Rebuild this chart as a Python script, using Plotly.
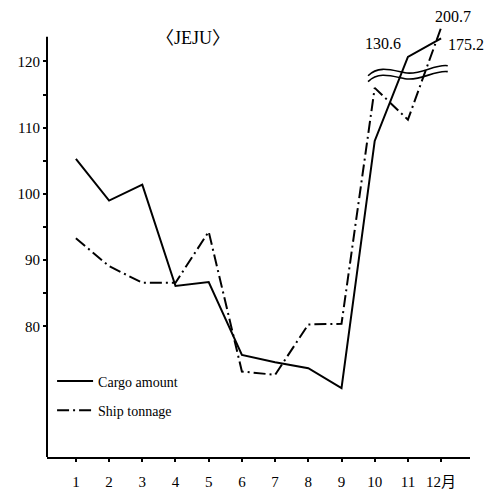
import plotly.graph_objects as go

# ---- data ----
months = [1, 2, 3, 4, 5, 6, 7, 8, 9, 10, 11, 12]
month_labels = ["1", "2", "3", "4", "5", "6", "7", "8", "9", "10", "11", "12月"]
cargo_amount = [105.3, 99.0, 101.4, 86.1, 86.7, 75.7, 74.6, 73.7, 70.7, 108.0, 130.6, 175.2]
ship_tonnage = [93.3, 89.1, 86.6, 86.6, 94.3, 73.2, 72.7, 80.3, 80.4, 116.0, 111.2, 200.7]
y_tick_vals = [80, 85, 90, 95, 100, 105, 110, 115, 120]
y_tick_text = ["80", "", "90", "", "100", "", "110", "", "120"]

# broken axis: values above the break are compressed
BREAK = 120.0
K = 0.063


def scale(v):
    return v if v <= BREAK else BREAK + (v - BREAK) * K


SERIF = "Liberation Serif, DejaVu Serif, Noto Sans CJK SC, serif"

fig = go.Figure()
fig.add_trace(go.Scatter(
    x=months, y=[scale(v) for v in cargo_amount], mode="lines",
    name="Cargo amount", legendgroup="a",
    line=dict(color="black", width=2),
))
fig.add_trace(go.Scatter(
    x=months, y=[scale(v) for v in ship_tonnage], mode="lines",
    name="Ship tonnage", legendgroup="b",
    line=dict(color="black", width=2, dash="12px,4px,2px,4px"),
))

# labels for values above the break
label_offsets = {("c", 10): (-25, 13), ("c", 11): (25, -6), ("s", 11): (12, 11)}
for key, series in (("c", cargo_amount), ("s", ship_tonnage)):
    for i, v in enumerate(series):
        if v > BREAK:
            dx, dy = label_offsets[(key, i)]
            fig.add_annotation(x=months[i], y=scale(v), text=f"{v:.1f}",
                               showarrow=False, xshift=dx, yshift=dy,
                               font=dict(family=SERIF, size=16, color="black"))

# title
fig.add_annotation(x=0.345, y=0.975, xref="paper", yref="paper", text="〈JEJU〉",
                   showarrow=False, font=dict(family=SERIF, size=18, color="black"))

# y axis line (only up to ~123.7)
fig.add_shape(type="line", xref="paper", yref="y", x0=0, x1=0, y0=60.3, y1=123.7,
              line=dict(color="black", width=2))

# wavy break marks
for off in (0.0, -0.9):
    p = (f"M 9.80,{117.84+off:.2f} C 10.10,{119.35+off:.2f} 10.46,{118.75+off:.2f} "
         f"10.91,{118.29+off:.2f} S 11.81,{119.65+off:.2f} 12.20,{119.35+off:.2f}")
    fig.add_shape(type="path", xref="x", yref="y", path=p,
                  line=dict(color="black", width=1.6))

# the page body has an 8px margin, so margins are reduced by 8 on the left/top
fig.update_layout(
    width=499, height=491,
    margin=dict(l=39, r=37, t=7, b=42),
    plot_bgcolor="white", paper_bgcolor="white",
    showlegend=True,
    legend=dict(x=0.012, y=0.207, xanchor="left", yanchor="top",
                font=dict(family=SERIF, size=14, color="black"),
                bgcolor="rgba(0,0,0,0)", tracegroupgap=8, itemwidth=36),
)
fig.update_xaxes(
    range=[0.13, 12.87], tickvals=months, ticktext=month_labels,
    showline=True, linecolor="black", linewidth=2, showgrid=False, zeroline=False,
    ticks="outside", ticklen=3, tickwidth=2, tickcolor="black",
    ticklabelstandoff=7, automargin=False,
    tickfont=dict(family=SERIF, size=15, color="black"),
)
fig.update_yaxes(
    range=[60.3, 127.0], tickvals=y_tick_vals, ticktext=y_tick_text,
    showline=False, showgrid=False, zeroline=False, automargin=False,
    ticks="outside", ticklen=3, tickwidth=2, tickcolor="black",
    tickfont=dict(family=SERIF, size=15, color="black"),
)

fig.write_html("out.html")
